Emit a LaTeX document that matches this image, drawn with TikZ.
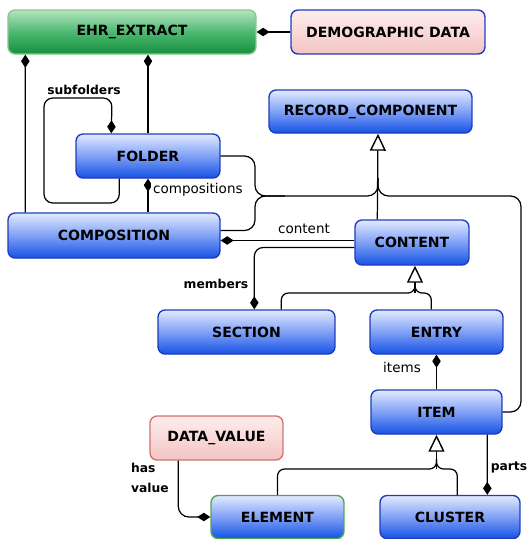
\documentclass[tikz,border=0pt]{standalone}
\usepackage{fontspec}
\setmainfont{DejaVu Sans}
\usetikzlibrary{arrows.meta,calc}

\definecolor{clstop}{HTML}{E2EAFF}
\definecolor{clsmid}{HTML}{7FA0F5}
\definecolor{clsbot}{HTML}{1652E6}
\definecolor{clsborder}{HTML}{1F3DBA}
\definecolor{grntop}{HTML}{B4E4C0}
\definecolor{grnmid}{HTML}{4CB870}
\definecolor{grnbot}{HTML}{17903F}
\definecolor{grnborder}{HTML}{8CC88C}
\definecolor{elemborder}{HTML}{4FA64F}
\definecolor{pnktop}{HTML}{FDEDED}
\definecolor{pnkbot}{HTML}{F4C4C4}
\definecolor{pnkborder}{HTML}{D27272}

\tikzset{
  cls/.style={rounded corners=4pt, line width=0.8pt, inner sep=0pt,
    minimum height=0.88cm, font=\fontsize{8}{9.6}\selectfont\bfseries},
  bluecls/.style={cls, draw=clsborder, top color=clstop, bottom color=clsbot, middle color=clsmid},
  greencls/.style={cls, draw=grnborder, top color=grntop, bottom color=grnbot, middle color=grnmid},
  pinkcls/.style={cls, draw=pnkborder, top color=pnktop, bottom color=pnkbot},
  conn/.style={line width=0.7pt},
  owns/.style={conn, -{Diamond[length=0.26cm, width=0.17cm]}},
  isa/.style={conn, -{Triangle[fill=white, length=0.34cm, width=0.32cm, line width=0.8pt]}},
  lbl/.style={font=\fontsize{7.7}{9}\selectfont, inner sep=1pt, fill=white},
  boldlbl/.style={font=\fontsize{7}{8.4}\selectfont\bfseries, inner sep=1pt, fill=white}
}

\begin{document}
\begin{tikzpicture}[x=0.02cm, y=-0.02cm]
 \useasboundingbox (0,0) rectangle (528,539);

 %classes
 \node (ehr) [greencls, minimum width=4.96cm] at (132,32) {EHR\_EXTRACT};
 \node (demo) [pinkcls, draw=clsborder, minimum width=3.88cm] at (388,32) {DEMOGRAPHIC DATA};
 \node (rc) [bluecls, minimum width=4.06cm, minimum height=0.86cm] at (370.5,111.5) {RECORD\_COMPONENT};
 \node (folder) [bluecls, minimum width=2.88cm] at (148,156) {FOLDER};
 \node (comp) [bluecls, minimum width=4.24cm, minimum height=0.9cm] at (114,235.5) {COMPOSITION};
 \node (content) [bluecls, minimum width=2.28cm, minimum height=0.9cm] at (412,242.5) {CONTENT};
 \node (section) [bluecls, minimum width=3.54cm] at (246.5,332) {SECTION};
 \node (entry) [bluecls, minimum width=2.66cm] at (436.5,332) {ENTRY};
 \node (item) [bluecls, minimum width=2.62cm] at (436.5,412) {ITEM};
 \node (dv) [pinkcls, minimum width=2.66cm] at (216.5,438) {DATA\_VALUE};
 \node (element) [bluecls, draw=elemborder, minimum width=2.66cm, minimum height=0.86cm] at (277.5,517) {ELEMENT};
 \node (cluster) [bluecls, minimum width=2.8cm, minimum height=0.86cm] at (450,517) {CLUSTER};

 %extract links
 \draw[owns] (demo) -- (ehr);
 \draw[owns] ($(comp.north west)+(18,0)$) -- ($(ehr.south west)+(18,0)$);
 \draw[owns] (folder.north) -- (folder.north |- ehr.south);

 %subfolders loop
 \draw[owns, rounded corners=5pt] ($(folder.south west)+(44,0)$) |- (44,203) |- (112,98)
   -- ($(folder.north west)+(36,0)$);
 \node (subf) [boldlbl] at (84,90) {subfolders};

 \draw[owns] (folder.south |- comp.north) -- (folder.south);
 \node (compsl) [lbl, anchor=west] at (151,190) {compositions};

 %content and members
 \draw[owns] ($(content.west)+(0,-2)$) -- ($(comp.east)+(0,5)$);
 \node (contl) [lbl] at (304,229) {content};
 \draw[owns, rounded corners=5pt] ($(content.west)+(0,5)$) -| ($(section.north west)+(97,0)$);
 \node (memb) [boldlbl] at (216,284) {members};

 %inheritance from RECORD_COMPONENT
 \coordinate (rcj) at (378,196);
 \draw[conn, rounded corners=6pt] (folder.east) -| (255,196) -| ($(rcj)+(0,-18)$);
 \draw[conn, rounded corners=6pt] ($(comp.east)+(0,-5)$) -| (255,196) -- (285,196);
 \draw[conn, rounded corners=6pt] (item.east) -| (521,196) -| ($(rcj)+(0,-18)$);
 \draw[isa] ($(content.north west)+(23,0)$) -- (rcj |- rc.south);

 %inheritance from CONTENT
 \coordinate (cj) at (415,293);
 \draw[conn, rounded corners=4pt] ($(section.north west)+(124,0)$) |- (cj) -- ++(0,-10);
 \draw[conn, rounded corners=4pt] ($(entry.north west)+(62,0)$) |- (cj) -- ++(0,-10);
 \draw[isa] (cj) -- (cj |- content.south);

 \draw[owns] (item.north) -- (item.north |- entry.south);
 \node (iteml) [lbl] at (402,367) {items};

 %inheritance from ITEM
 \coordinate (ij) at (436.5,469);
 \draw[conn, rounded corners=4pt] (element.north) |- (ij) -- ++(0,-10);
 \draw[conn, rounded corners=4pt] ($(cluster.north west)+(78,0)$) |- (ij) -- ++(0,-10);
 \draw[isa] (ij) -- (ij |- item.south);

 \draw[owns] ($(item.south west)+(117,0)$) -- ($(cluster.north west)+(108,0)$);
 \node (partsl) [boldlbl, inner sep=0.3pt, anchor=east] at (528,467) {parts};

 %value link
 \draw[owns, rounded corners=6pt] ($(dv.south west)+(29,0)$) |- (element.west);
 \node (hasv) [boldlbl, align=left, anchor=west] at (129,478) {has\\[3pt]value};
\end{tikzpicture}
\end{document}
